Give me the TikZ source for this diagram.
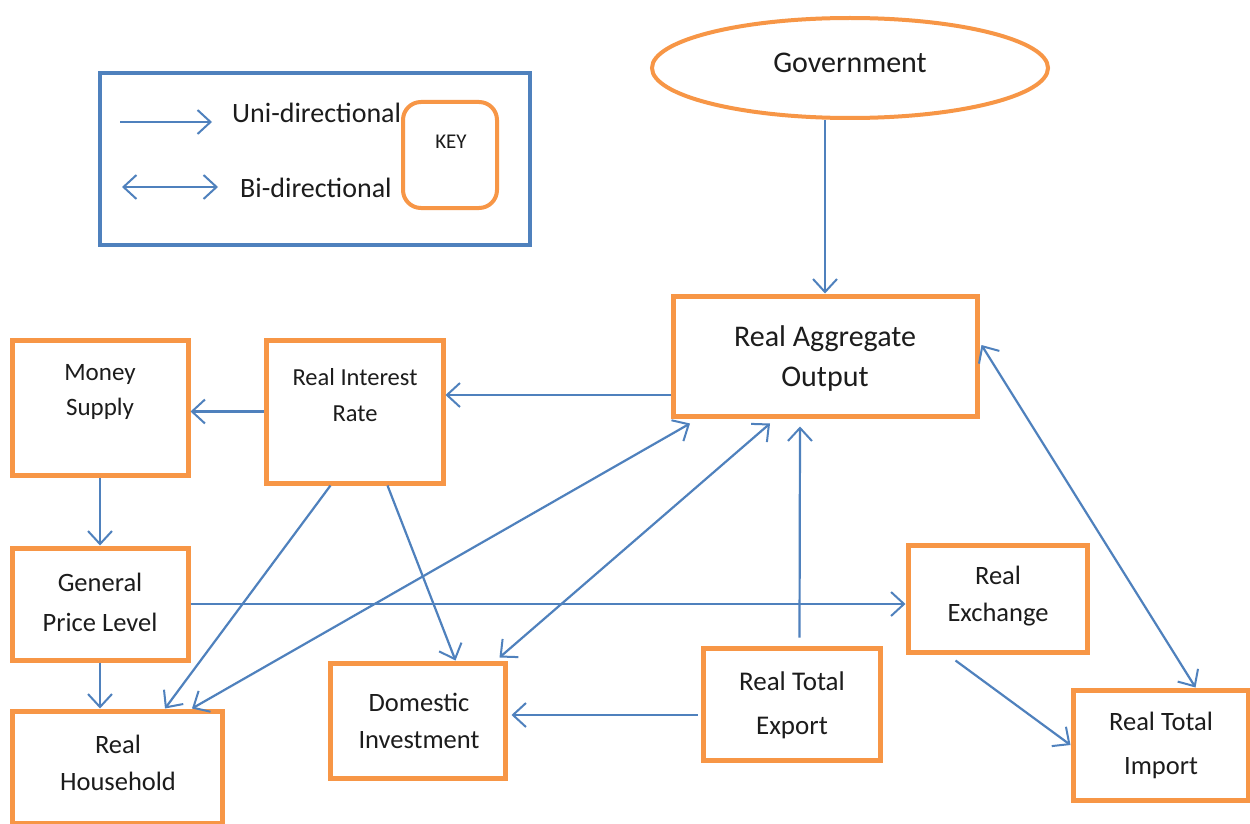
\documentclass[tikz,border=0pt]{standalone}
\usepackage{fontspec}
\setmainfont{Carlito}
\usetikzlibrary{arrows.meta,calc,shapes.geometric}
\definecolor{linkblue}{HTML}{4F81BD}
\definecolor{boxorange}{HTML}{F79646}
\definecolor{inkgrey}{HTML}{1C1C1C}
\tikzset{
  box/.style={draw=boxorange, line width=5pt, fill=white, rectangle, inner sep=0pt},
  txt/.style={align=center, text=inkgrey, inner sep=0pt, font=\fontsize{22}{36}\selectfont},
  arr/.style={draw=linkblue, line width=2.2pt, -{Straight Barb[length=13pt,width=24pt,line width=2pt]}},
  biarr/.style={draw=linkblue, line width=2.2pt, {Straight Barb[length=13pt,width=24pt,line width=2pt]}-{Straight Barb[length=13pt,width=24pt,line width=2pt]}},
}
\begin{document}
\begin{tikzpicture}[x=1pt,y=-1pt]
\useasboundingbox (0,0) rectangle (1250,824);
\fill[white] (0,0) rectangle (1250,824);

% key
\node[draw=linkblue, line width=4pt, minimum width=430pt, minimum height=172pt, inner sep=0pt] (keyframe) at (315,159) {};
\node[draw=boxorange, line width=4pt, rounded corners=18pt, minimum width=94pt, minimum height=106pt, inner sep=0pt] (keybox) at (450,155) {};
\node[txt, font=\fontsize{21}{24}\selectfont] (keylbl) at (451,142) {KEY};
\coordinate (u1) at (120,122);
\coordinate (u2) at (212,122);
\coordinate (b1) at (122,187);
\coordinate (b2) at (218,187);
\draw[arr] (u1) -- (u2);
\draw[biarr] (b1) -- (b2);
\node[txt, anchor=west, font=\fontsize{28}{30}\selectfont] (unilbl) at (232,113) {Uni-directional};
\node[txt, anchor=west, font=\fontsize{28}{30}\selectfont] (bilbl) at (240,188) {Bi-directional};

% government
\node[draw=boxorange, line width=4pt, ellipse, minimum width=396pt, minimum height=100pt, fill=white] (gov) at (850,68) {};
\node[txt, font=\fontsize{30}{32}\selectfont] (govlbl) at (850,63) {Government};

% boxes
\node[box, minimum width=304pt, minimum height=120pt] (rao) at (825,356) {};
\node[box, minimum width=176pt, minimum height=135pt] (ms) at (100,407.5) {};
\node[box, minimum width=177pt, minimum height=143pt] (rir) at (354.5,411.5) {};
\node[box, minimum width=176pt, minimum height=112pt] (gpl) at (100,604) {};
\node[box, minimum width=210pt, minimum height=112pt] (rh) at (117,767) {};
\node[box, minimum width=175pt, minimum height=115pt] (di) at (417.5,720.5) {};
\node[box, minimum width=177pt, minimum height=112pt] (rte) at (791.5,704) {};
\node[box, minimum width=179pt, minimum height=107pt] (re) at (997.5,598.5) {};
\node[box, minimum width=175pt, minimum height=110pt] (rti) at (1160.5,745) {};

% texts
\node[txt, font=\fontsize{30}{40}\selectfont] (raolbl) at (825,358) {Real Aggregate\\Output};
\node[txt, font=\fontsize{25}{35}\selectfont] (mslbl) at (100,392) {Money\\Supply};
\node[txt, font=\fontsize{24.5}{36}\selectfont] (rirlbl) at (355,395) {Real Interest\\Rate};
\node[txt, font=\fontsize{26.5}{40}\selectfont] (gpllbl) at (100,602) {General\\Price Level};
\node[txt, font=\fontsize{26.5}{37}\selectfont] (rhlbl) at (118,763) {Real\\Household};
\node[txt, font=\fontsize{26.5}{37}\selectfont] (dilbl) at (419,721) {Domestic\\Investment};
\node[txt, font=\fontsize{27}{44}\selectfont] (rtelbl) at (792,705) {Real Total\\Export};
\node[txt, font=\fontsize{26.5}{37}\selectfont] (relbl) at (998,596) {Real\\Exchange};
\node[txt, font=\fontsize{26.5}{44}\selectfont] (rtilbl) at (1161,745) {Real Total\\Import};

% connectors
\draw[arr] (gov.south -| rao.north) -- (rao.north);
\draw[arr] ($(rao.west)+(0,39)$) -- ($(rir.east)+(0,-16.5)$);
\draw[arr] (rir.west) -- (ms.east |- rir.west);
\draw[arr] (ms.south) -- (gpl.north);
\draw[arr] (gpl.south) -- (gpl.south |- rh.north);
\draw[arr] ($(rir.south)+(-24,0)$) -- ($(rh.north)+(48,0)$);
\draw[arr] ($(rir.south)+(33,0)$) -- ($(di.north)+(38,0)$);
\draw[biarr] ($(rh.north)+(75,0)$) -- ($(rao.south)+(-135,5)$);
\draw[biarr] ($(di.north)+(82,-3)$) -- ($(rao.south)+(-55,5)$);
\draw[arr] ($(rte.north)+(8,-8)$) -- ($(rao.south)+(-25,8)$);
\draw[arr] ($(rte.west)+(-3,11)$) -- ($(di.east)+(4,-5.5)$);
\draw[arr] (gpl.east) -- (re.west |- gpl.east);
\draw[arr] ($(re.south)+(-42,6)$) -- (rti.west);
\draw[biarr] ($(rao.east)+(2,-11)$) -- ($(rti.north)+(35,0)$);
\end{tikzpicture}
\end{document}
